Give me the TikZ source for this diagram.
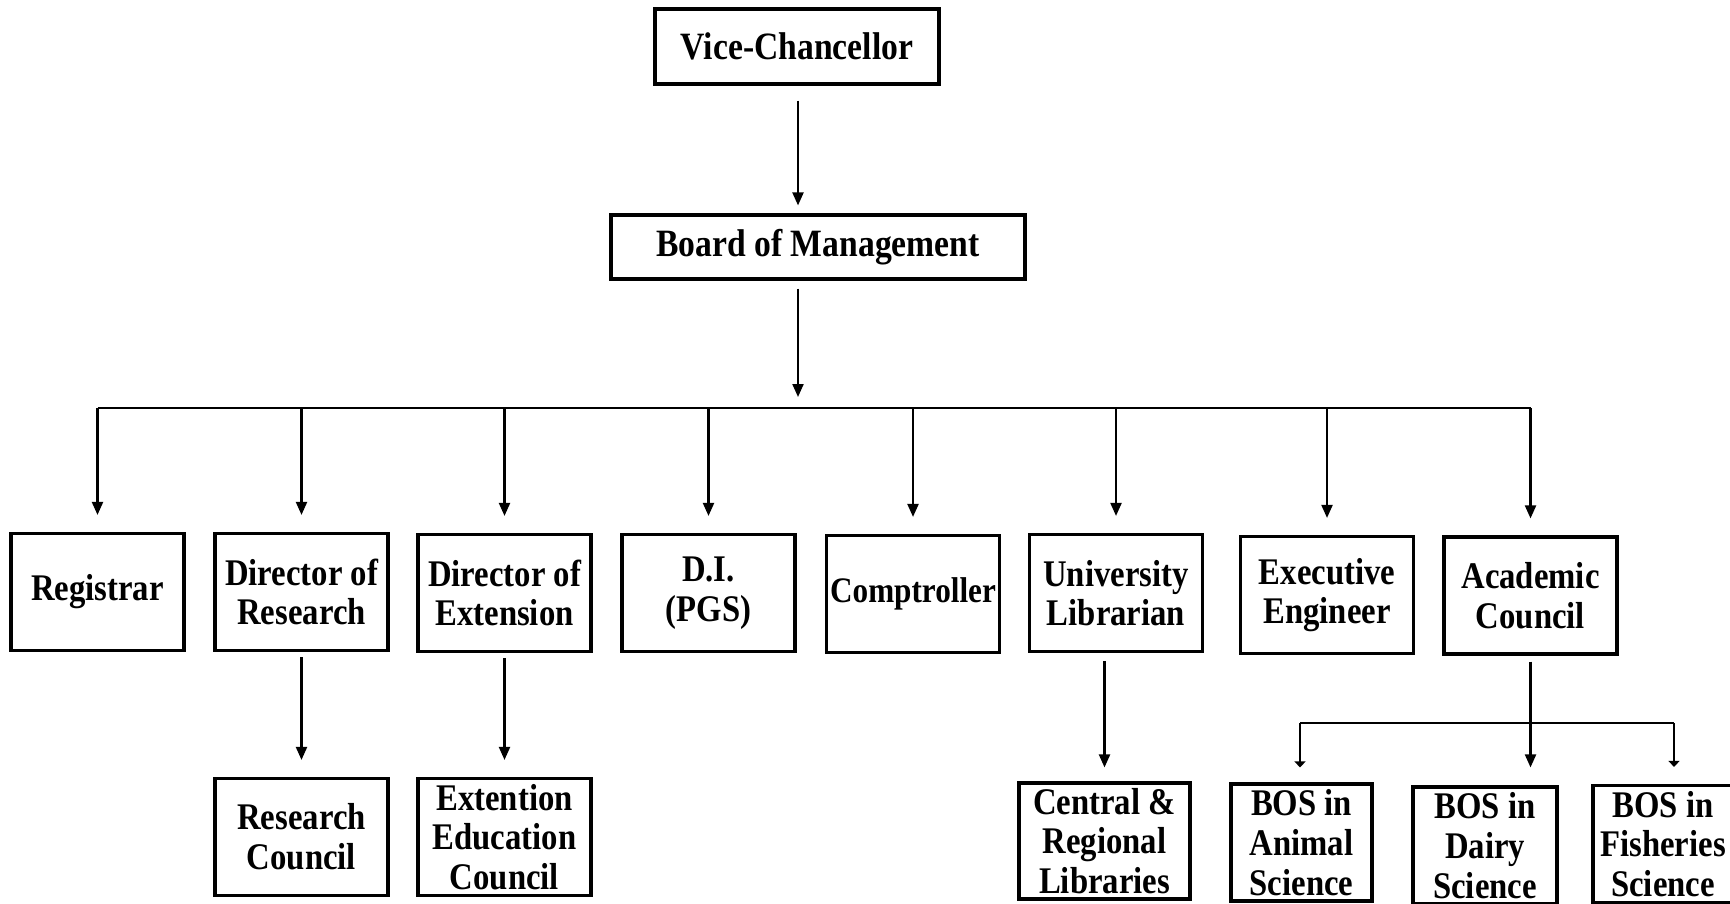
\documentclass[tikz,border=0pt]{standalone}
\usepackage{fontspec}
\setmainfont{Liberation Serif}[FakeStretch=0.87]
\usetikzlibrary{arrows.meta}

\begin{document}
\begin{tikzpicture}[semithick,
  box/.style ={draw,line width=0.9pt,align=center,inner sep=0pt,font=\fontsize{10.7}{11.3}\selectfont\bfseries,minimum width=1.73cm,minimum height=1.17cm},
  arr/.style ={-{Triangle[length=1.3mm,width=1.1mm]},line width=0.6pt},
  arrs/.style ={-{Triangle[length=0.6mm,width=1.1mm]},line width=0.6pt}]

\useasboundingbox (0,0) rectangle (17.30,-9.04);
\clip (0,0) rectangle (17.30,-9.04);

%top
\node[box,minimum width=2.84cm,minimum height=0.75cm,font=\fontsize{11}{11}\selectfont\bfseries] (vc) at (7.97,-0.465) {Vice-Chancellor};
\node[box,minimum width=4.14cm,minimum height=0.64cm,font=\fontsize{11}{11}\selectfont\bfseries] (bom) at (8.18,-2.47) {Board of Management};

%officers
\node[box] (reg) at (0.975,-5.92) {Registrar};
\node[box] (dor) at (3.015,-5.92) {Director of\\Research};
\node[box] (doe) at (5.045,-5.93) {Director of\\Extension};
\node[box] (di) at (7.085,-5.93) {D.I.\\(PGS)};
\node[box,font=\fontsize{10.2}{11.3}\selectfont\bfseries] (comp) at (9.13,-5.94) {Comptroller};
\node[box] (ul) at (11.16,-5.93) {University\\Librarian};
\node[box] (ee) at (13.27,-5.95) {Executive\\Engineer};
\node[box] (ac) at (15.305,-5.955) {Academic\\Council};

%councils
\node[box] (rc) at (3.015,-8.37) {Research\\Council};
\node[box] (eec) at (5.045,-8.37) {Extention\\Education\\Council};
\node[box,minimum width=1.71cm,minimum height=1.16cm] (crl) at (11.045,-8.41) {Central \&\\Regional\\Libraries};
\node[box,minimum width=1.41cm] (bosa) at (13.015,-8.425) {BOS in\\Animal\\Science};
\node[box,minimum width=1.44cm] (bosd) at (14.85,-8.455) {BOS in\\Dairy\\Science};
\node[box,minimum width=1.40cm] (bosf) at (16.63,-8.44) {BOS in\\Fisheries\\Science};

\coordinate (bar) at (7.98,-4.08);
\coordinate (subL) at (13.00,-7.23);
\coordinate (subR) at (16.74,-7.23);

\draw [arr,shorten <=0.15cm,shorten >=0.08cm] (vc.south -| bar) -- (bom.north -| bar);
\draw [arr,shorten <=0.08cm,shorten >=0.11cm] (bom.south -| bar) -- (bar);
\draw [line width=0.6pt] (reg.north |- bar) -- (ac.north |- bar);

\foreach \n in {reg,dor,doe,di,comp,ul,ee,ac}
  \draw [arr,shorten >=0.17cm] (\n.north |- bar) -- (\n.north);

\path (dor) edge [arr,shorten <=0.05cm,shorten >=0.17cm] (rc);
\path (doe) edge [arr,shorten <=0.05cm,shorten >=0.17cm] (eec);
\draw [arr,shorten <=0.08cm,shorten >=0.14cm] (crl.north |- ul.south) -- (crl.north);

%BOS
\draw [arr,shorten <=0.06cm,shorten >=0.18cm] (ac.south) -- (ac.south |- bosd.north);
\draw [line width=0.6pt] (subL) -- (subR);
\draw [arrs,shorten >=0.15cm] (subL) -- (subL |- bosa.north);
\draw [arrs,shorten >=0.17cm] (subR) -- (subR |- bosf.north);
\end{tikzpicture}
\end{document}
